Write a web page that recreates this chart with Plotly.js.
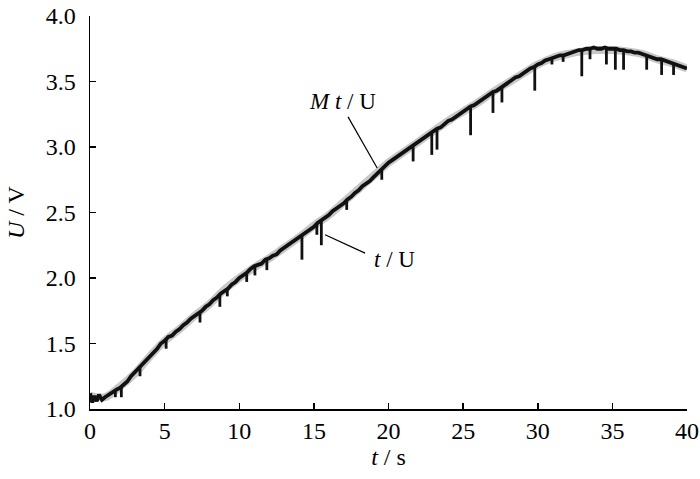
<!DOCTYPE html>
<html>
<head>
<meta charset="utf-8">
<script src="https://cdn.plot.ly/plotly-3.0.1.min.js"></script>
<style>html,body{margin:0;padding:0;background:#fff;}#chart{width:700px;height:479px;}</style>
</head>
<body>
<div id="chart"></div>
<script>
// Measured signal t/U (noisy band)
const tMeas = [0.0,0.15,0.3,0.45,0.6,0.8,1.0,1.25,1.5,1.8,2.0,2.2,2.5,2.75,3.0,3.2,3.5,3.75,4.0,4.25,4.5,4.75,5.0,5.25,5.5,5.75,6.0,6.25,6.5,6.75,7.0,7.25,7.5,7.75,8.0,8.25,8.5,8.75,9.0,9.25,9.5,9.75,10.0,10.25,10.5,10.75,11.0,11.25,11.5,11.75,12.0,12.25,12.5,12.75,13.0,13.25,13.5,13.75,14.0,14.25,14.5,14.75,15.0,15.25,15.5,15.75,16.0,16.25,16.5,16.75,17.0,17.25,17.5,17.75,18.0,18.25,18.5,18.75,19.0,19.25,19.5,19.75,20.0,20.25,20.5,20.75,21.0,21.25,21.5,21.75,22.0,22.25,22.5,22.75,23.0,23.25,23.5,23.75,24.0,24.25,24.5,24.75,25.0,25.25,25.5,25.75,26.0,26.25,26.5,26.75,27.0,27.25,27.5,27.75,28.0,28.25,28.5,28.75,29.0,29.25,29.5,29.75,30.0,30.25,30.5,30.75,31.0,31.25,31.5,31.75,32.0,32.25,32.5,32.75,33.0,33.25,33.5,33.75,34.0,34.25,34.5,34.75,35.0,35.25,35.5,35.75,36.0,36.25,36.5,36.75,37.0,37.25,37.5,37.75,38.0,38.25,38.5,38.75,39.0,39.25,39.5,39.75,40.0];
const uMeas = [1.12,1.05,1.10,1.06,1.11,1.07,1.09,1.11,1.13,1.15,1.16,1.18,1.21,1.25,1.28,1.31,1.34,1.38,1.40,1.44,1.46,1.50,1.52,1.55,1.56,1.59,1.61,1.64,1.66,1.69,1.71,1.73,1.75,1.78,1.80,1.83,1.85,1.88,1.90,1.92,1.95,1.97,2.00,2.02,2.04,2.07,2.09,2.10,2.11,2.14,2.15,2.17,2.18,2.21,2.23,2.25,2.27,2.29,2.31,2.33,2.35,2.37,2.39,2.42,2.44,2.46,2.48,2.51,2.53,2.55,2.57,2.60,2.62,2.65,2.67,2.70,2.72,2.74,2.77,2.80,2.83,2.85,2.88,2.90,2.92,2.94,2.96,2.98,3.00,3.02,3.04,3.06,3.08,3.10,3.12,3.14,3.15,3.18,3.20,3.21,3.23,3.25,3.27,3.29,3.31,3.32,3.34,3.36,3.38,3.40,3.42,3.43,3.45,3.47,3.49,3.51,3.53,3.54,3.56,3.58,3.60,3.61,3.63,3.64,3.66,3.67,3.68,3.69,3.70,3.70,3.71,3.72,3.73,3.74,3.74,3.75,3.75,3.76,3.75,3.75,3.76,3.75,3.75,3.75,3.74,3.74,3.73,3.73,3.72,3.72,3.71,3.70,3.69,3.68,3.67,3.67,3.66,3.65,3.64,3.63,3.62,3.61,3.60];
// Downward spikes of t/U: time, top value, bottom value
const spikeT   = [1.7,2.1,3.35,5.1,7.37,8.7,9.2,10.5,11.05,11.85,14.2,15.2,15.5,17.2,19.55,21.65,22.9,23.25,25.5,27.0,27.6,29.8,30.95,31.7,32.95,33.5,34.6,35.2,35.75,37.3,38.3,39.1];
const spikeTop = [1.14,1.17,1.33,1.54,1.74,1.87,1.91,2.04,2.09,2.14,2.33,2.41,2.44,2.59,2.83,3.01,3.11,3.14,3.31,3.42,3.46,3.62,3.68,3.71,3.74,3.75,3.75,3.75,3.74,3.71,3.67,3.64];
const spikeLow = [1.09,1.09,1.25,1.46,1.66,1.78,1.86,1.97,2.02,2.06,2.14,2.33,2.25,2.52,2.75,2.89,2.94,2.98,3.09,3.26,3.34,3.43,3.63,3.65,3.54,3.67,3.63,3.59,3.59,3.59,3.55,3.55];
// Model signal Mt/U (smooth)
const tModel = [0,1,2,3,4,5,6,7,8,9,10,11,12,13,14,15,16,17,18,19,20,21,22,23,24,25,26,27,28,29,30,31,32,33,34,35,36,37,38,39,40];
const uModel = [1.10,1.09,1.17,1.27,1.40,1.52,1.61,1.71,1.80,1.91,2.00,2.08,2.15,2.23,2.31,2.40,2.48,2.58,2.68,2.78,2.88,2.96,3.04,3.12,3.20,3.27,3.34,3.42,3.49,3.56,3.63,3.68,3.71,3.73,3.74,3.74,3.73,3.71,3.67,3.64,3.60];
const xTicks = [0,5,10,15,20,25,30,35,40];
const yTicks = [1.0,1.5,2.0,2.5,3.0,3.5,4.0];

const sx = [], sy = [];
for (let i = 0; i < spikeT.length; i++) {
  sx.push(spikeT[i], spikeT[i], null);
  sy.push(spikeTop[i], spikeLow[i], null);
}

const serif = "Liberation Serif, serif";
const traces = [
  {x: tModel, y: uModel, mode: 'lines', line: {color: '#c8c8c8', width: 8, shape: 'spline'}, hoverinfo: 'skip'},
  {x: tMeas, y: uMeas, mode: 'lines', line: {color: '#111', width: 3.8}, hoverinfo: 'skip'},
  {x: sx, y: sy, mode: 'lines', line: {color: '#111', width: 2.8}, connectgaps: false, hoverinfo: 'skip'}
];

const axisCommon = {
  showline: true, linecolor: '#000', linewidth: 1.5, mirror: false,
  ticks: 'inside', ticklen: 6, tickwidth: 1.5, tickcolor: '#000',
  showgrid: false, zeroline: false, automargin: false,
  tickfont: {family: serif, size: 24, color: '#000'}
};

const layout = {
  width: 700, height: 479,
  margin: {l: 90, r: 13, t: 16, b: 70},
  paper_bgcolor: '#fff', plot_bgcolor: '#fff',
  showlegend: false,
  font: {family: serif, color: '#000'},
  xaxis: Object.assign({}, axisCommon, {
    range: [0, 40], tickvals: xTicks, ticktext: xTicks.map(String),
    title: {text: '<i>t</i> / s', font: {family: serif, size: 24, color: '#000'}, standoff: 2}
  }),
  yaxis: Object.assign({}, axisCommon, {
    range: [1, 4], tickvals: yTicks, ticktext: yTicks.map(v => v.toFixed(1)),
    ticklabelstandoff: 8,
    title: {text: '<i>U</i> / V', font: {family: serif, size: 24, color: '#000'}, standoff: 14}
  }),
  annotations: [
    {x: 16.9, y: 3.35, xref: 'x', yref: 'y', text: '<i>M t</i> / U', showarrow: false,
     font: {family: serif, size: 23, color: '#000'}},
    {x: 20.4, y: 2.14, xref: 'x', yref: 'y', text: '<i>t</i> / U', showarrow: false,
     font: {family: serif, size: 23, color: '#000'}}
  ],
  shapes: [
    {type: 'line', xref: 'x', yref: 'y', x0: 17.29, y0: 3.23, x1: 19.24, y1: 2.84, line: {color: '#000', width: 1.2}},
    {type: 'line', xref: 'x', yref: 'y', x0: 15.75, y0: 2.33, x1: 18.43, y1: 2.19, line: {color: '#000', width: 1.2}}
  ]
};

Plotly.newPlot('chart', traces, layout, {displayModeBar: false, staticPlot: true});
</script>
</body>
</html>
